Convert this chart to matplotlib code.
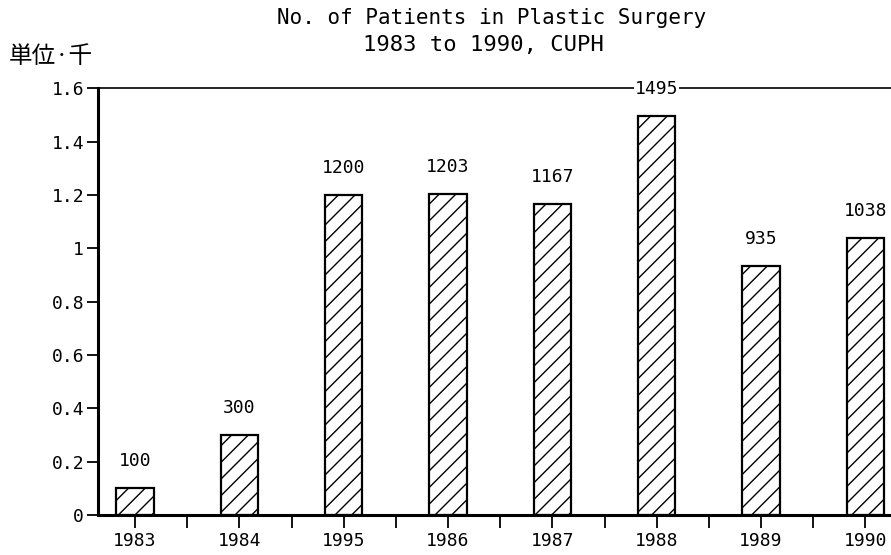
import matplotlib
matplotlib.use("Agg")
import matplotlib.pyplot as plt
import numpy as np

# data
years = ["1983", "1984", "1995", "1986", "1987", "1988", "1989", "1990"]
patients = [100, 300, 1200, 1203, 1167, 1495, 935, 1038]  # persons
y_ticks = [0, 0.2, 0.4, 0.6, 0.8, 1.0, 1.2, 1.4, 1.6]
y_tick_labels = ["0", "0.2", "0.4", "0.6", "0.8", "1", "1.2", "1.4", "1.6"]

mono = "DejaVu Sans Mono"
plt.rcParams["font.family"] = mono
plt.rcParams["hatch.linewidth"] = 1.0

fig = plt.figure(figsize=(8.91, 5.55), dpi=100)
# axes run past the right edge, as in the cropped scan
ax = fig.add_axes([0.110, 0.072, 0.9315, 0.769])

x = np.arange(len(years))
heights = [p / 1000 for p in patients]
bars = ax.bar(x, heights, width=0.36, color="white", edgecolor="black",
              linewidth=1.6, hatch="//")

for xi, h, p in zip(x, heights, patients):
    ax.annotate(str(p), (xi, h), xytext=(0, 13), textcoords="offset points",
                ha="center", va="bottom", fontsize=13,
                bbox=dict(facecolor="white", edgecolor="none", pad=0.5))

ax.set_xlim(-0.355, 7.6)
ax.set_ylim(0, 1.6)

ax.set_yticks(y_ticks)
ax.set_yticklabels(y_tick_labels, fontsize=13)
ax.set_xticks(x)
ax.set_xticklabels(years, fontsize=13)
ax.set_xticks(x + 0.5, minor=True)
ax.tick_params(axis="x", which="both", direction="out", length=9, width=1.3, pad=3)
ax.tick_params(axis="y", direction="out", length=8, width=1.3, pad=2)

for side in ["left", "bottom"]:
    ax.spines[side].set_linewidth(2.2)
ax.spines["top"].set_linewidth(1.2)
ax.spines["right"].set_visible(False)

fig.text(0.552, 0.967, "No. of Patients in Plastic Surgery", ha="center",
         va="center", fontsize=15)
fig.text(0.542, 0.919, "1983 to 1990, CUPH", ha="center", va="center", fontsize=16)
fig.text(0.010, 0.898, "単位·千", ha="left", va="center", fontsize=17,
         family=["Noto Sans CJK JP", "DejaVu Sans"])

fig.savefig("out.png", dpi=100)
